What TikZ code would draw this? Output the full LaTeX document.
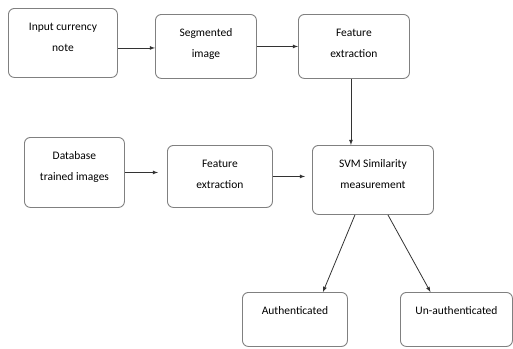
\documentclass[tikz,border=0pt]{standalone}
\usepackage{fontspec}
\setmainfont{Carlito}
\newcommand{\stagetext}[3]{\parbox[b][#2][t]{#1}{\centering\rule{0pt}{22pt}#3}}

\begin{document}
\begin{tikzpicture}[x=1pt,y=-1pt,
    stage/.style={draw=black!50, line width=0.9pt, rounded corners=6pt, inner sep=0pt,
      anchor=north west, font=\fontsize{11.5}{21}\selectfont},
    flow/.style={-latex, line width=0.8pt, draw=black!80}]
    \useasboundingbox (0,0) rectangle (513,348);

    % upper row
    \node[stage] (input) at (8,8) {\stagetext{109pt}{69pt}{Input currency\\note}};
    \node[stage] (segment) at (155,14) {\stagetext{101pt}{64pt}{Segmented\\image}};
    \node[stage] (feature) at (298,14) {\stagetext{111pt}{64pt}{Feature\\extraction}};

    % middle row
    \node[stage] (database) at (24,137) {\stagetext{100pt}{70pt}{Database\\trained images}};
    \node[stage] (trainfeat) at (167,145) {\stagetext{105pt}{62pt}{Feature\\extraction}};
    \node[stage] (svm) at (312,145) {\stagetext{121pt}{69pt}{SVM Similarity\\measurement}};

    % results
    \node[stage] (auth) at (242,292) {\stagetext{105pt}{54pt}{Authenticated}};
    \node[stage] (unauth) at (400,292) {\stagetext{112pt}{54pt}{Un-authenticated}};

    \draw[flow] ([yshift=-1.5pt]input.east |- segment.west) -- ([yshift=-1.5pt]segment.west);
    \draw[flow] (segment) -- (feature);
    \draw[flow] ([xshift=-3pt]feature.south) -- ([xshift=-3pt]feature.south |- svm.north);
    \draw[flow,shorten >=9pt] (database) -- (database -| trainfeat.west);
    \draw[flow,shorten >=7pt] (trainfeat.east) -- (svm.west |- trainfeat.east);
    \draw[flow] ([xshift=-18pt]svm.south) -- ([xshift=28pt]auth.north);
    \draw[flow] ([xshift=15pt]svm.south) -- ([xshift=-26pt]unauth.north);
\end{tikzpicture}
\end{document}
